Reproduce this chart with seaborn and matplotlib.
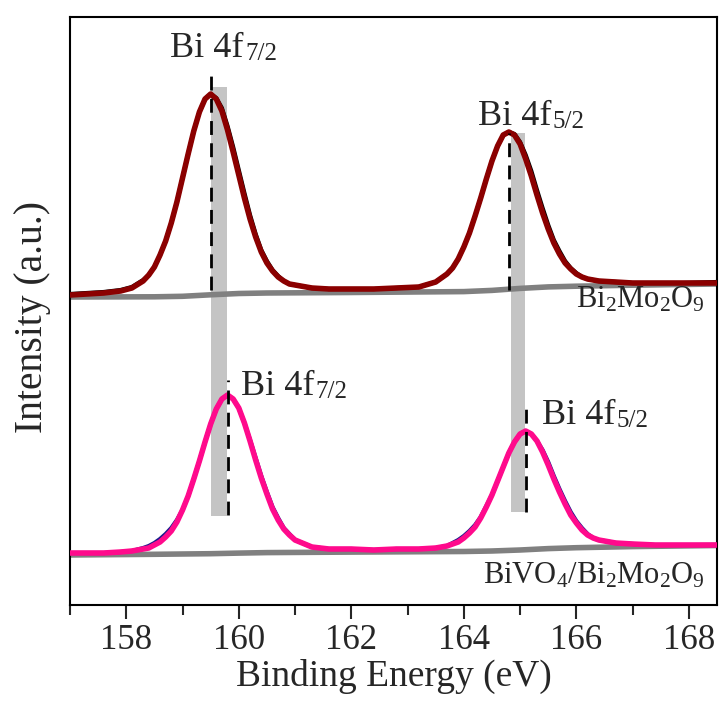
import matplotlib
matplotlib.use("Agg")
import matplotlib.pyplot as plt
import seaborn as sns
import pandas as pd

# ---------------- data ----------------
energy = [157.0, 157.3, 157.6, 157.9, 158.1, 158.3, 158.4, 158.5, 158.6, 158.7,
          158.8, 158.9, 159.0, 159.1, 159.2, 159.3, 159.4, 159.5, 159.6, 159.7,
          159.8, 159.9, 160.0, 160.1, 160.2, 160.3, 160.4, 160.5, 160.6, 160.7,
          160.8, 160.9, 161.0, 161.3, 161.6, 162.0, 162.4, 162.8, 163.2, 163.5,
          163.7, 163.8, 163.9, 164.0, 164.1, 164.2, 164.3, 164.4, 164.5, 164.6,
          164.7, 164.8, 164.9, 165.0, 165.1, 165.2, 165.3, 165.4, 165.5, 165.6,
          165.7, 165.8, 165.9, 166.0, 166.1, 166.2, 166.3, 166.4, 166.7, 167.0,
          167.4, 167.9, 168.5]

# Bi2Mo2O9 (upper spectrum): measured data and fitted envelope
top_raw = [311, 312, 313, 315, 318, 325,
           330, 338, 350, 364, 382, 403, 427, 451, 474, 493, 506, 511,
           507, 497, 479, 458, 435, 412, 390, 371, 355, 344, 335, 329,
           324, 321, 320, 317, 316, 316, 316, 317, 318, 323, 331, 337,
           346, 358, 372, 389, 407, 426, 444, 459, 470, 473,
           471, 463, 450, 434, 415, 397, 380, 365, 354, 344, 337, 332,
           328, 326, 325, 324, 323, 322, 322, 322, 323]
top_fit = [310, 311, 312, 314, 317, 324, 330, 338, 350, 364,
           382, 403, 427, 451, 474, 493, 506, 511, 506, 494,
           475, 453, 430, 407, 386, 368, 353, 342, 334, 328,
           324, 321, 320, 317, 316, 316, 316, 317, 318, 323,
           331, 337, 346, 358, 372, 389, 407, 426, 444, 459,
           470, 473, 470, 461, 446, 429, 410, 392, 376, 362,
           351, 342, 336, 331, 328, 326, 325, 324, 323, 322,
           322, 322, 322]

# BiVO4/Bi2Mo2O9 (lower spectrum)
bot_raw = [52, 52, 52, 53, 54,
           57, 59, 62, 66, 71, 77, 85,
           95, 109, 126, 144, 163, 181, 196, 206, 210, 206, 197, 182,
           165, 147, 129, 113, 98, 87, 77, 71,
           65, 58, 56, 56, 55, 56, 56, 57, 59,
           62, 65, 69, 74, 80, 88, 99,
           110, 124, 138, 152, 163, 171, 174, 171, 164,
           155, 143, 129, 116, 104, 93, 84, 77, 71,
           67, 65, 62, 61, 60, 60, 60]
bot_fit = [52, 52, 52, 53, 54, 56, 57, 60, 63, 68,
           74, 83, 95, 109, 126, 144, 163, 181, 196, 206,
           210, 206, 197, 182, 164, 145, 127, 111, 96, 85,
           76, 70, 65, 58, 56, 56, 55, 56, 56, 57,
           59, 61, 63, 67, 72, 78, 87, 98, 110, 124,
           138, 152, 163, 171, 174, 171, 164, 153, 140, 126,
           113, 101, 90, 82, 75, 70, 67, 65, 62, 61,
           60, 60, 60]

# Shirley-type backgrounds
bg_energy = [157.0, 158.5, 159.0, 159.5, 160.0, 160.5, 162.0, 164.0, 164.5,
             165.0, 165.5, 166.0, 167.0, 168.5]
top_bg = [308, 308.2, 308.7, 310.2, 311.5, 312, 312.5, 313.4, 314.6,
          316.6, 318.1, 318.8, 319.8, 321]
bot_bg = [50, 50.7, 51, 51.3, 51.9, 52.4, 52.9, 53.5, 54,
          55, 56.4, 57.3, 58.4, 59.5]

# peak position markers
dash_x = [159.5, 164.8, 159.8, 165.1]
dash_ytop = [530, 472, 225, 200]
dash_ybot = [315, 315, 90, 93]
band_x0 = [159.51, 164.83]
band_x1 = [159.79, 165.09]
band_ytop = [518, 472]
band_ybot = [89, 93]

# peak labels: main text, subscript, junction x, baseline y
peak_main = ["Bi 4f", "Bi 4f", "Bi 4f", "Bi 4f"]
peak_sub = ["7/2", "5/2", "7/2", "5/2"]
peak_x = [160.09, 165.55, 161.34, 166.70]
peak_y = [548, 480, 210, 181]

xticks = [158, 160, 162, 164, 166, 168]
minor_xticks = [157, 159, 161, 163, 165, 167]

# ---------------- plot ----------------
sns.set_style("ticks")
plt.rcParams["font.family"] = ["Liberation Serif", "DejaVu Serif"]
plt.rcParams["mathtext.fontset"] = "custom"
plt.rcParams["mathtext.rm"] = "Liberation Serif"
plt.rcParams["mathtext.it"] = "Liberation Serif:italic"

fig = plt.figure(figsize=(7.23, 7.15), dpi=100)
ax = fig.add_axes([70 / 723, 110 / 715, 647 / 723, 588 / 715])

for x0, x1, y0, y1 in zip(band_x0, band_x1, band_ybot, band_ytop):
    ax.fill_between([x0, x1], [y0, y0], [y1, y1], color="#c4c4c4", lw=0, zorder=1)

df_bg = pd.DataFrame({"E": bg_energy, "top": top_bg, "bot": bot_bg})
sns.lineplot(data=df_bg, x="E", y="top", ax=ax, color="#808080", lw=4, zorder=2)
sns.lineplot(data=df_bg, x="E", y="bot", ax=ax, color="#808080", lw=4, zorder=2)

df = pd.DataFrame({"E": energy, "top_raw": top_raw, "top_fit": top_fit,
                   "bot_raw": bot_raw, "bot_fit": bot_fit})
kw = dict(solid_joinstyle="round", solid_capstyle="round")
sns.lineplot(data=df, x="E", y="top_raw", ax=ax, color="black", lw=3, zorder=3, **kw)
sns.lineplot(data=df, x="E", y="top_fit", ax=ax, color="#8b0000", lw=4, zorder=4, **kw)
sns.lineplot(data=df, x="E", y="bot_raw", ax=ax, color="#1a1a8c", lw=3, zorder=3, **kw)
sns.lineplot(data=df, x="E", y="bot_fit", ax=ax, color="#ff0a8c", lw=4, zorder=4, **kw)

for x, y0, y1 in zip(dash_x, dash_ybot, dash_ytop):
    ax.plot([x, x], [y0, y1], color="black", lw=2, ls=(0, (5, 3)), zorder=5)

for m, s, x, y in zip(peak_main, peak_sub, peak_x, peak_y):
    ax.text(x, y, m, fontsize=26, ha="right", va="baseline")
    ax.text(x + 0.02, y - 3, s, fontsize=18, ha="left", va="baseline")

ax.text(168.29, 305, r"Bi$_\mathrm{2}$Mo$_\mathrm{2}$O$_\mathrm{9}$", fontsize=22,
        ha="right", va="center")
ax.text(168.29, 29, r"BiVO$_\mathrm{4}$/Bi$_\mathrm{2}$Mo$_\mathrm{2}$O$_\mathrm{9}$",
        fontsize=22, ha="right", va="center")

ax.set_xlim(157, 168.5)
ax.set_ylim(0, 588)
ax.set_xticks(xticks)
ax.set_xticks(minor_xticks, minor=True)
ax.set_yticks([])
ax.tick_params(axis="x", which="major", direction="out", length=10, width=1.5,
               labelsize=25, pad=4)
ax.tick_params(axis="x", which="minor", direction="out", length=7, width=1.5)
for sp in ax.spines.values():
    sp.set_visible(True)
    sp.set_linewidth(1.5)
    sp.set_color("black")
ax.set_xlabel("Binding Energy (eV)", fontsize=27, labelpad=1)
ax.set_ylabel("Intensity (a.u.)", fontsize=28.5)
ax.yaxis.set_label_coords(-0.029, 0.49)

fig.savefig("out.png", dpi=100)
